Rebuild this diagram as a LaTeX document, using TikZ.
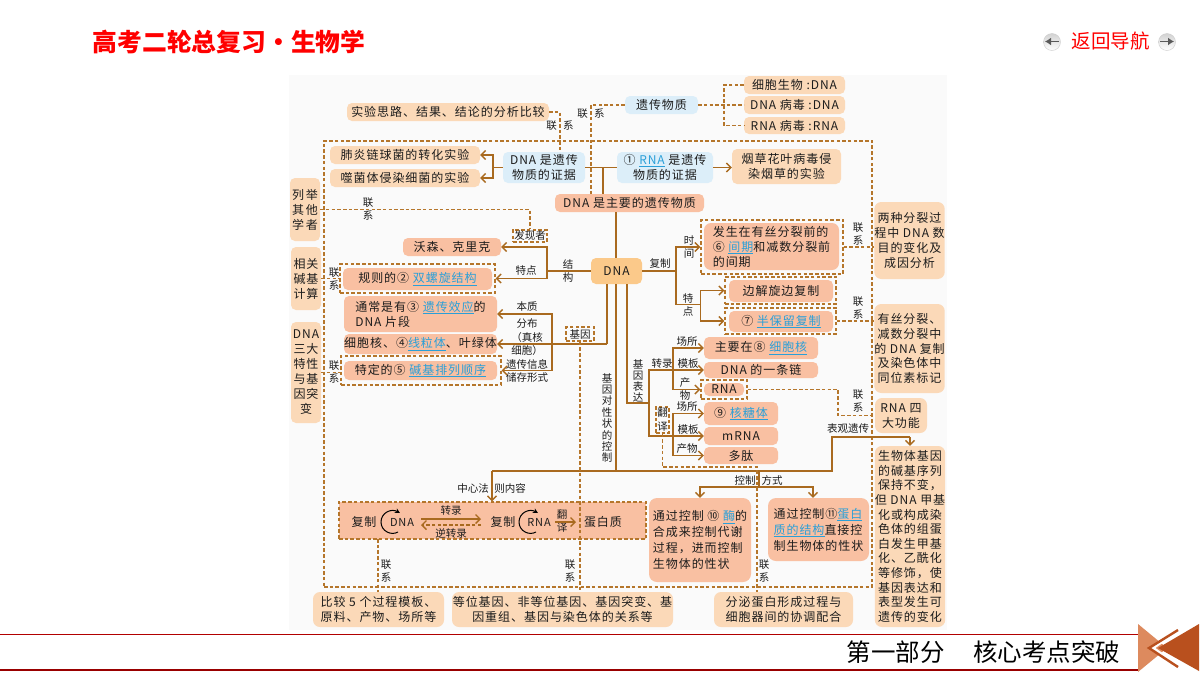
\documentclass[tikz,border=0pt]{standalone}
\usepackage{fontspec}
\usetikzlibrary{arrows.meta,calc}
\setmainfont{Noto Sans CJK SC}
\newfontfamily\hw{Noto Sans CJK SC}[LetterSpace=8]
\definecolor{pch}{HTML}{FBD9B8}
\definecolor{sal}{HTML}{F9C0A2}
\definecolor{lbl}{HTML}{DCEEF9}
\definecolor{org}{HTML}{FBC98A}
\definecolor{lnc}{HTML}{A96A1F}
\definecolor{dsh}{HTML}{B5762B}
\definecolor{lk}{HTML}{2A9FD8}
\definecolor{pan}{HTML}{FAFAFA}
\definecolor{txt}{HTML}{1C1C1C}
\definecolor{tril}{HTML}{DD8A5E}
\definecolor{trid}{HTML}{B9501E}
\newcommand\lkt[1]{{\color{lk}\underline{#1}}}
\tikzset{
  bxbase/.style={inner sep=0pt,rounded corners=5pt,align=center,text=txt,font=\hw\fontsize{12}{15}\selectfont},
  pbox/.style={fill=pch},
  sbox/.style={fill=sal},
  lbox/.style={fill=lbl},
  obox/.style={fill=org},
  dfr/.style={draw=dsh,dash pattern=on 3.5pt off 2.2pt,line width=1.4pt,rounded corners=0pt},
  sl/.style={draw=lnc,line width=1.4pt},
  arr/.style={sl,-{Straight Barb[length=4.5pt,width=9pt]}},
  dl/.style={draw=dsh,line width=1.4pt,dash pattern=on 3.5pt off 2.2pt},
  lab/.style={inner sep=0pt,align=center,text=txt,font=\fontsize{10.5}{13.5}\selectfont},
  tight/.style={font=\hw\fontsize{12}{14.6}\selectfont},
  loose/.style={font=\hw\fontsize{12}{16}\selectfont}
}
\newcommand\bx[7][]{\node[bxbase,minimum width={(#5-#3)*1pt},minimum height={(#6-#4)*1pt},#1] (#2) at ({(#3+#5)/2},{(#4+#6)/2}) {#7};}
\newcommand\lb[4]{\node[lab] (#1) at (#2,#3) {#4};}
\begin{document}
\begin{tikzpicture}[x=1pt,y=-1pt]
\useasboundingbox (0,0) rectangle (1200,675);
\fill[white] (0,0) rectangle (1200,675);
\fill[pan] (289,75) rectangle (947,630);
% header
\node[inner sep=0pt,text=red,font=\bfseries\fontsize{24.8}{28}\selectfont] (title) at (229,42) {高考二轮总复习·生物学};
\node[inner sep=0pt,text=red,font=\fontsize{19.5}{22}\selectfont] (nav) at (1110.5,41) {返回导航};
\shade[top color=gray!35,bottom color=white,draw=gray!40] (1052,42) circle (8.5);
\shade[top color=gray!35,bottom color=white,draw=gray!40] (1167,42) circle (8.5);
\draw[gray!70!black,line width=1.6pt,-{Latex[length=6pt,width=8pt]}] (1059,41.5) -- (1045,41.5);
\draw[gray!70!black,line width=1.6pt,-{Latex[length=6pt,width=8pt]}] (1160,41.5) -- (1174,41.5);
% footer
\draw[draw=red!70!black,line width=1.2pt] (0,634.5) -- (1138,634.5);
\draw[draw=red!60!black,line width=2pt] (0,670) -- (1138,670);
\node[inner sep=0pt,text=black,font=\fontsize{24.5}{28}\selectfont] (part) at (983.5,652) {第一部分\hspace{1.15em}核心考点突破};
\fill[tril] (1138,624) -- (1167,648) -- (1138,672) -- cycle;
\draw[white,line width=4pt] (1182,627) -- (1152,648) -- (1182,669);
\fill[trid] (1199,624) -- (1158,648) -- (1199,671) -- cycle;
\draw[trid,line width=2.4pt] (1178,630) -- (1149,648) -- (1178,667);
% big frame
\bx[dfr]{big}{324}{141}{872}{587}{}
% top boxes
\bx[pbox]{sy}{347}{103}{549}{121}{实验思路、结果、结论的分析比较}
\bx[pbox]{fei}{330}{146}{480}{164}{肺炎链球菌的转化实验}
\bx[pbox]{shi}{330}{169}{480}{187}{噬菌体侵染细菌的实验}
\bx[lbox]{evd}{503}{152}{585}{183}{DNA 是遗传\\物质的证据}
\bx[lbox]{rev}{617}{152}{713}{183}{① \lkt{RNA} 是遗传\\物质的证据}
\bx[pbox]{yan}{732}{149}{841}{184}{烟草花叶病毒侵\\染烟草的实验}
\bx[sbox]{zy}{555}{194}{704}{212}{DNA 是主要的遗传物质}
\bx[lbox]{yc}{625}{96}{698}{114}{遗传物质}
\bx[pbox]{xb1}{744}{76}{845}{94}{细胞生物 :DNA}
\bx[pbox]{dv}{744}{96}{845}{114}{DNA 病毒 :DNA}
\bx[pbox]{rv}{744}{117}{845}{134}{RNA 病毒 :RNA}
% left column
\bx[pbox]{lj}{290}{178}{320}{241}{列\hspace{.15em}举\\其\hspace{.15em}他\\学\hspace{.15em}者}
\bx[pbox]{xg}{291}{247}{321}{310}{相关\\碱基\\计算}
\bx[pbox]{sd}{291}{322}{321}{423}{DNA\\三大\\特性\\与基\\因突\\变}
% structure
\bx[dfr]{fx}{513}{230}{547}{242}{\normalfont\fontsize{10.5}{12}\selectfont 发现者}
\bx[sbox]{ws}{403}{238}{501}{256}{沃森、克里克}
\bx[dfr]{gzo}{340}{264}{495}{293}{}
\bx[sbox]{gz}{343}{268}{492}{290}{规则的② \lkt{双螺旋结构}}
\bx[sbox,align=left]{tc}{344}{296}{497}{332}{通常是有③ \lkt{遗传效应}的\\DNA 片段}
\bx[sbox]{xb}{344}{334}{497}{354}{细胞核、④\lkt{线粒体}、叶绿体}
\bx[dfr]{tdo}{341}{356}{501}{385}{}
\bx[sbox]{td}{344}{361}{497}{380}{特定的⑤ \lkt{碱基排列顺序}}
\bx[obox]{dna}{591}{258}{642}{284}{DNA}
\bx[dfr]{jy}{566}{327}{594}{341}{\normalfont\fontsize{10.5}{12}\selectfont 基因}
% replication
\bx[dfr]{fso}{701}{220}{843}{274}{}
\bx[sbox,rounded corners=7pt,align=left]{fs}{704}{223}{839}{270}{发生在有丝分裂前的\\⑥ \lkt{间期}和减数分裂前\\的间期}
\bx[dfr]{bjo}{725}{277}{836}{304}{}
\bx[sbox]{bj}{729}{280}{833}{302}{边解旋边复制}
\bx[dfr]{bso}{725}{308}{836}{334}{}
\bx[sbox]{bs}{729}{311}{833}{332}{⑦ \lkt{半保留复制}}
\bx[sbox]{zyz}{704}{337}{818}{359}{主要在⑧ \lkt{细胞核}}
\bx[sbox]{dnal}{704}{362}{818}{378}{DNA 的一条链}
\bx[dfr]{rnao}{701}{380}{747}{399}{}
\bx[sbox]{rna}{704}{383}{744}{396}{RNA}
\bx[sbox]{hty}{704}{402}{778}{425}{⑨ \lkt{核糖体}}
\bx[sbox]{mrna}{704}{427}{778}{445}{mRNA}
\bx[sbox]{dt}{704}{447}{778}{464}{多肽}
\bx[dfr,font=\fontsize{10.5}{14}\selectfont]{fy}{656}{407}{669}{433}{翻\\译}
% right column
\bx[pbox,rounded corners=7pt]{lz}{876}{202}{943}{279}{两种分裂过\\程中 DNA 数\\目的变化及\\成因分析}
\bx[pbox,rounded corners=7pt,tight]{ysf}{876}{304}{943}{393}{有丝分裂、\\减数分裂中\\的 DNA 复制\\及染色体中\\同位素标记}
\bx[pbox,rounded corners=7pt]{rf}{875}{398}{927}{433}{RNA 四\\大功能}
\bx[pbox,rounded corners=7pt,tight]{swt}{876}{446}{944}{627}{生物体基因\\的碱基序列\\保持不变，\\但 DNA 甲基\\化或构成染\\色体的组蛋\\白发生甲基\\化、乙酰化\\等修饰，使\\基因表达和\\表型发生可\\遗传的变化}
% central dogma
\bx[dfr,fill=sal]{zx}{339}{502}{646}{539}{}
\lb{zf1}{364}{522}{\hw\fontsize{12}{14}\selectfont 复制}
\lb{zd}{402}{522}{\hw\fontsize{11}{14}\selectfont DNA}
\lb{zf2}{503}{522}{\hw\fontsize{12}{14}\selectfont 复制}
\lb{zr}{539}{522}{\hw\fontsize{11}{14}\selectfont RNA}
\lb{zp}{603}{522}{\hw\fontsize{12}{14}\selectfont 蛋白质}
\lb{zl1}{451}{511}{转录}
\lb{zl2}{451}{533}{逆转录}
\lb{zl3}{562}{521}{翻\\译}
% mechanism boxes
\bx[sbox,rounded corners=8pt,loose,align=left]{m10}{649}{498}{751}{582}{通过控制 ⑩ \lkt{酶}的\\合成来控制代谢\\过程，进而控制\\生物体的性状}
\bx[sbox,rounded corners=8pt,loose,align=left]{m11}{768}{498}{869}{561}{通过控制⑪\lkt{蛋白}\\\lkt{质的结构}直接控\\制生物体的性状}
% bottom boxes
\bx[pbox,rounded corners=7pt]{bjb}{313}{592}{444}{627}{比较 5 个过程模板、\\原料、产物、场所等}
\bx[pbox,rounded corners=7pt]{dw}{452}{592}{673}{627}{等位基因、非等位基因、基因突变、基\\因重组、基因与染色体的关系等}
\bx[pbox,rounded corners=7pt]{fm}{714}{592}{853}{627}{分泌蛋白形成过程与\\细胞器间的协调配合}
% labels
\lb{a1}{560}{126}{联\hspace{0.6em}系}
\lb{a2}{591}{114}{联\hspace{0.6em}系}
\lb{a3}{368}{209}{联\\系}
\lb{a4}{334}{279}{联\\系}
\lb{a5}{334}{372}{联\\系}
\lb{a6}{858}{234}{联\\系}
\lb{a7}{858}{308}{联\\系}
\lb{a8}{858}{401}{联\\系}
\lb{a9}{386}{571}{联\\系}
\lb{a10}{570}{571}{联\\系}
\lb{a11}{764}{571}{联\\系}
\lb{b1}{568}{271}{结\\构}
\lb{b2}{526}{271}{特点}
\lb{b3}{527}{307}{本质}
\lb{b4}{527}{351}{分布\\（真核\\细胞）\\遗传信息\\储存形式}
\lb{b5}{660}{264}{复制}
\lb{b6}{689}{247}{时\\间}
\lb{b7}{688}{305}{特\\点}
\node[lab,font=\fontsize{10.5}{11.2}\selectfont] (b8) at (638,381) {基\\因\\表\\达};
\lb{b9}{662}{364}{转录}
\lb{b10}{687}{342}{场所}
\lb{b11}{688}{364}{模板}
\lb{b12}{685}{389}{产\\物}
\lb{b13}{687}{407}{场所}
\lb{b14}{688}{430}{模板}
\lb{b15}{687}{449}{产物}
\node[lab,font=\fontsize{10.5}{11.4}\selectfont] (b16) at (607,418) {基\\因\\对\\性\\状\\的\\控\\制};
\lb{b17}{848}{429}{表观遗传}
\lb{b18}{473}{488}{中心法}
\lb{b19}{510}{488}{则内容}
\lb{b20}{745}{480}{控制}
\lb{b21}{772}{480}{方式}
% solid connectors
\coordinate (j1) at (493,167.5);
\coordinate (j2) at (603,167.5);
\draw[sl] (evd.west) -- (j1);
\draw[arr] (j1) |- (fei.east);
\draw[arr] (j1) |- (shi.east);
\draw[sl] (evd.east) -- (rev.west);
\draw[sl] (j2) -- (j2 |- zy.north);
\draw[arr] (rev.east) -- (yan.west |- rev.east);
\coordinate (t1) at (616,271);
\coordinate (t2) at (616,471);
\coordinate (t3) at (492,471);
\coordinate (t4) at (832,471);
\coordinate (t5) at (910,437);
\draw[sl] (t1 |- zy.south) -- (t1 |- dna.north);
\draw[sl] (t1 |- dna.south) -- (t2);
\draw[sl] (t3) -- (t4) |- (t5);
\draw[arr] (t5) -- (t5 |- swt.north);
\draw[arr] (t3) -- (t3 |- zx.north);
\coordinate (u1) at (607,344);
\coordinate (u2) at (552,344);
\draw[sl] (u1 |- dna.south) -- (u1);
\draw[arr] (u1) -- (xb.east);
\draw[arr] (u2) |- (tc.east);
\draw[arr] (u2) |- (tdo.east);
\coordinate (v1) at (547,271);
\draw[sl] (dna.west) -- (v1);
\draw[arr] (v1) |- (ws.east);
\draw[arr] (v1) |- (gzo.east);
\coordinate (w1) at (676,271);
\coordinate (w2) at (700.7,304.5);
\draw[sl] (dna.east) -- (w1);
\draw[arr] (w1) |- (fso.west);
\draw[sl] (w1) |- (w2);
\draw[arr] (w2) |- (bjo.west);
\draw[arr] (w2) |- (bso.west);
\coordinate (x1) at (627,403);
\coordinate (x2) at (649,403);
\coordinate (x3) at (673,370);
\coordinate (x4) at (673,436);
\draw[sl] (x1 |- dna.south) -- (x1) -- (x2);
\draw[sl] (x3) -| (x2) |- (x4);
\draw[arr] (x3) |- (zyz.west);
\draw[arr] (x3) -- (dnal.west);
\draw[arr] (x3) |- (rnao.west);
\draw[arr] (x4) |- (hty.west);
\draw[arr] (x4) -- (mrna.west);
\draw[arr] (x4) |- (dt.west);
\coordinate (y1) at (759,471);
\coordinate (y2) at (759,487);
\coordinate (y3) at (813,487);
\draw[sl] (y1) -- (y2);
\draw[arr] (y2) -| (m10.north);
\draw[arr] (y2) -- (y3) -- (y3 |- m11.north);
% dashed connectors
\coordinate (d1) at (560,112);
\draw[dl] (sy.east) -- (d1) -- (d1 |- evd.north);
\coordinate (d2) at (591,105);
\draw[dl] (yc.west) -- (d2) -- (d2 |- zy.north);
\coordinate (d3) at (724,105);
\draw[dl] (yc.east) -- (dv.west);
\draw[dl] (xb1.west) -| (d3) |- (rv.west);
\coordinate (d4) at (530,209.5);
\draw[dl] (lj.east) -- (d4) -- (d4 |- fx.north);
\draw[dl] (xg.east) -- (gzo.west);
\draw[dl] (sd.east) -- (tdo.west |- sd.east);
\draw[dl] (fso.east) -- (lz.west |- fso.east);
\draw[dl] (bso.east) -- (ysf.west |- bso.east);
\coordinate (d5) at (838,389.5);
\draw[dl] (rnao.east) -- (d5) |- (rf.west);
\draw[dl] (jy.south) -- (jy.south |- dw.north);
\coordinate (d6) at (378,539);
\draw[dl] (d6) -- (d6 |- bjb.north);
\coordinate (d7) at (662.5,467);
\coordinate (d8) at (757,467);
\draw[dl] (fy.south) -- (d7) -- (d8) -- (d8 |- fm.north);
% central-dogma arrows
\coordinate (c1) at (421,519);
\coordinate (c2) at (481,519);
\coordinate (c3) at (421,525);
\coordinate (c4) at (481,525);
\coordinate (c5) at (555,522);
\coordinate (c6) at (576,522);
\draw[arr] (c1) -- (c2);
\draw[arr,dash pattern=on 3.5pt off 2.2pt] (c4) -- (c3);
\draw[arr] (c5) -- (c6);
\draw[black,line width=1pt,-{Stealth[length=5pt,width=5pt]}] (398,532) .. controls (391,536) and (381,531) .. (381,522) .. controls (381,513) and (391,508) .. (400,513);
\draw[black,line width=1pt,-{Stealth[length=5pt,width=5pt]}] (536,532) .. controls (529,536) and (519,531) .. (519,522) .. controls (519,513) and (529,508) .. (538,513);
\end{tikzpicture}
\end{document}
